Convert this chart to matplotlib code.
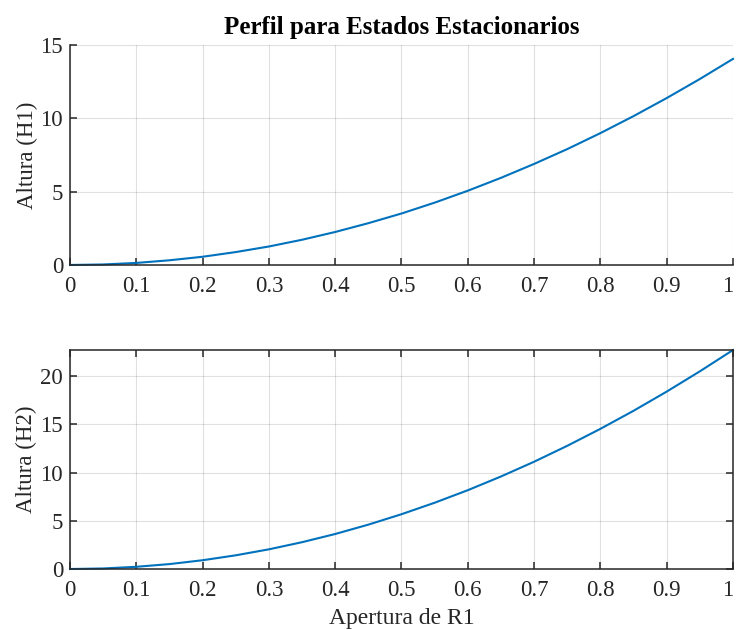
import matplotlib.pyplot as plt

# Apertura de R1 vs. altura en estado estacionario
apertura = [0, 0.05, 0.1, 0.15, 0.2, 0.25, 0.3, 0.35, 0.4, 0.45, 0.5,
            0.55, 0.6, 0.65, 0.7, 0.75, 0.8, 0.85, 0.9, 0.95, 1.0]
h1 = [0, 0.035, 0.14, 0.32, 0.56, 0.88, 1.26, 1.72, 2.25, 2.85, 3.51,
      4.25, 5.06, 5.94, 6.89, 7.90, 8.99, 10.15, 11.38, 12.68, 14.05]
h2 = [0, 0.057, 0.23, 0.51, 0.91, 1.42, 2.04, 2.78, 3.63, 4.60, 5.68,
      6.87, 8.17, 9.59, 11.12, 12.77, 14.53, 16.40, 18.39, 20.49, 22.70]

xticks = [0, 0.1, 0.2, 0.3, 0.4, 0.5, 0.6, 0.7, 0.8, 0.9, 1]
xticklabels = ['0', '0.1', '0.2', '0.3', '0.4', '0.5', '0.6', '0.7', '0.8', '0.9', '1']

plt.rcParams['font.family'] = ['Liberation Serif', 'DejaVu Serif']
plt.rcParams['font.size'] = 16.5

line_color = '#0072BD'
axis_color = '#262626'

fig = plt.figure(figsize=(7.36, 6.3), dpi=100)
ax1 = fig.add_axes([0.0951, 0.5794, 0.9008, 0.3492])
ax2 = fig.add_axes([0.0951, 0.0968, 0.9008, 0.3476])

for ax in (ax1, ax2):
    ax.set_xlim(0, 1)
    ax.set_xticks(xticks)
    ax.set_xticklabels(xticklabels)
    ax.get_xticklabels()[-1].set_horizontalalignment('right')
    ax.grid(True, color='#000000', alpha=0.12, linewidth=0.8)
    ax.set_axisbelow(True)
    for s in ax.spines.values():
        s.set_color(axis_color)
        s.set_linewidth(1.1)
    ax.tick_params(direction='in', length=5, width=1.1, colors=axis_color,
                   labelcolor=axis_color, pad=5)
    ax.tick_params(axis='x', pad=8)

# subplot superior (box off)
ax1.plot(apertura, h1, color=line_color, linewidth=1.5, clip_on=False)
ax1.set_ylim(0, 15)
ax1.set_yticks([0, 5, 10, 15])
ax1.spines['top'].set_visible(False)
ax1.spines['right'].set_visible(False)
ax1.set_ylabel('Altura (H1)', color=axis_color, labelpad=2)
ax1.set_title('Perfil para Estados Estacionarios', fontweight='bold',
              fontsize=18, color='#000000', pad=8)

# subplot inferior (box on)
ax2.plot(apertura, h2, color=line_color, linewidth=1.5, clip_on=False)
ax2.set_ylim(0, 22.7)
ax2.set_yticks([0, 5, 10, 15, 20])
ax2.tick_params(top=True, right=True)
ax2.set_ylabel('Altura (H2)', color=axis_color, labelpad=2)
ax2.set_xlabel('Apertura de R1', color=axis_color, fontsize=17, labelpad=5)

fig.savefig('out.png', dpi=100)
